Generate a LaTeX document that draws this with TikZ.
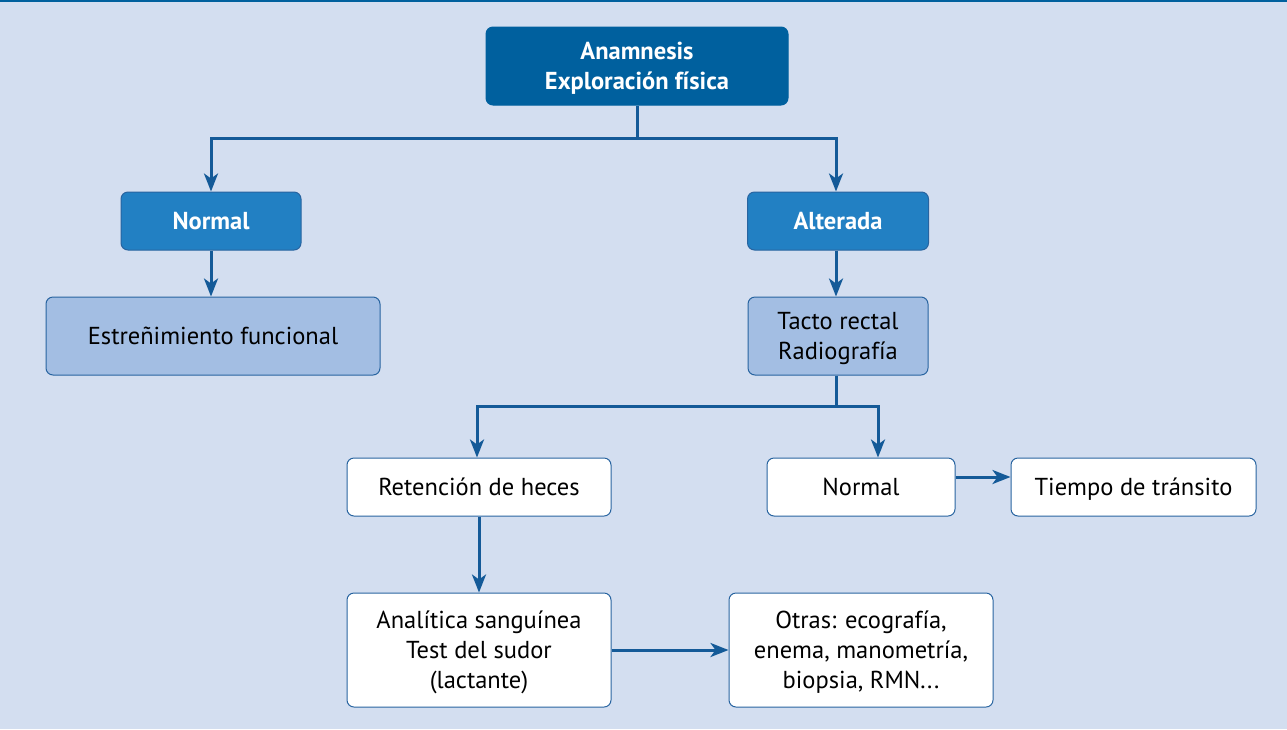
\documentclass[tikz,border=0pt]{standalone}
\usepackage{fontspec}
\setmainfont{PT Sans}
\usetikzlibrary{arrows.meta,calc}
\definecolor{bgc}{RGB}{211,222,240}
\definecolor{darkb}{RGB}{0,96,158}
\definecolor{midb}{RGB}{34,128,195}
\definecolor{lightb}{RGB}{163,190,227}
\definecolor{linec}{RGB}{20,90,152}
\definecolor{edgec}{RGB}{40,100,160}
\tikzset{
  x=1pt,y=-1pt,
  box/.style={draw=edgec,line width=1pt,rounded corners=7pt,align=center,inner sep=0pt,text depth=-3.5pt,font=\fontsize{24.5}{30}\selectfont},
  topbox/.style={box,fill=darkb,draw=darkb,text=white,font=\fontsize{24.5}{30}\selectfont\bfseries},
  midbox/.style={box,fill=midb,draw=edgec,text=white,font=\fontsize{24.5}{30}\selectfont\bfseries},
  lightbox/.style={box,fill=lightb,text=black},
  whitebox/.style={box,fill=white,text=black},
  conn/.style={draw=linec,line width=3pt},
  arr/.style={conn,-{Stealth[length=18pt,width=14pt,inset=5pt]}}
}
\begin{document}
\begin{tikzpicture}
\fill[bgc] (0,0) rectangle (1287,729);
\useasboundingbox (0,0) rectangle (1287,729);
\fill[darkb] (0,0) rectangle (1287,2);
\node[topbox,minimum width=302pt,minimum height=78pt] (top) at (637,66) {Anamnesis\\Exploración física};
\node[midbox,minimum width=180pt,minimum height=58pt] (norm) at (211,221) {Normal};
\node[midbox,minimum width=181pt,minimum height=58pt] (alt) at (838,221) {Alterada};
\node[lightbox,minimum width=334pt,minimum height=78pt] (estr) at (213,336) {Estreñimiento funcional};
\node[lightbox,minimum width=180pt,minimum height=78pt] (tacto) at (838,336) {Tacto rectal\\Radiografía};
\node[whitebox,minimum width=264pt,minimum height=58pt] (ret) at (479,487) {Retención de heces};
\node[whitebox,minimum width=188pt,minimum height=58pt] (norm2) at (861,487) {Normal};
\node[whitebox,minimum width=245pt,minimum height=58pt] (tiempo) at (1133.5,487) {Tiempo de tránsito};
\node[whitebox,minimum width=264pt,minimum height=114pt] (anal) at (479,650) {Analítica sanguínea\\Test del sudor\\(lactante)};
\node[whitebox,minimum width=264pt,minimum height=114pt] (otras) at (861,650) {Otras: ecografía,\\enema, manometría,\\biopsia, RMN...};
\coordinate (j1) at (637,138);
\coordinate (j2) at (836,406);
\draw[conn] (top.south) -- (j1);
\draw[arr] (j1) -| ([xshift=0pt]norm.north);
\draw[arr] (j1) -| ([xshift=-2pt]alt.north);
\draw[arr] (norm.south) -- (estr.north -| norm.south);
\draw[arr] ([xshift=-2pt]alt.south) -- ([xshift=-2pt]tacto.north);
\draw[conn] ([xshift=-2pt]tacto.south) -- (j2);
\draw[arr] (j2) -| ([xshift=-2pt]ret.north);
\draw[arr] (j2) -| ([xshift=17pt]norm2.north);
\draw[arr] ([yshift=10pt]norm2.east) -- ([yshift=10pt]tiempo.west);
\draw[arr] (ret.south) -- (anal.north);
\draw[arr] (anal.east) -- (otras.west);
\end{tikzpicture}
\end{document}
